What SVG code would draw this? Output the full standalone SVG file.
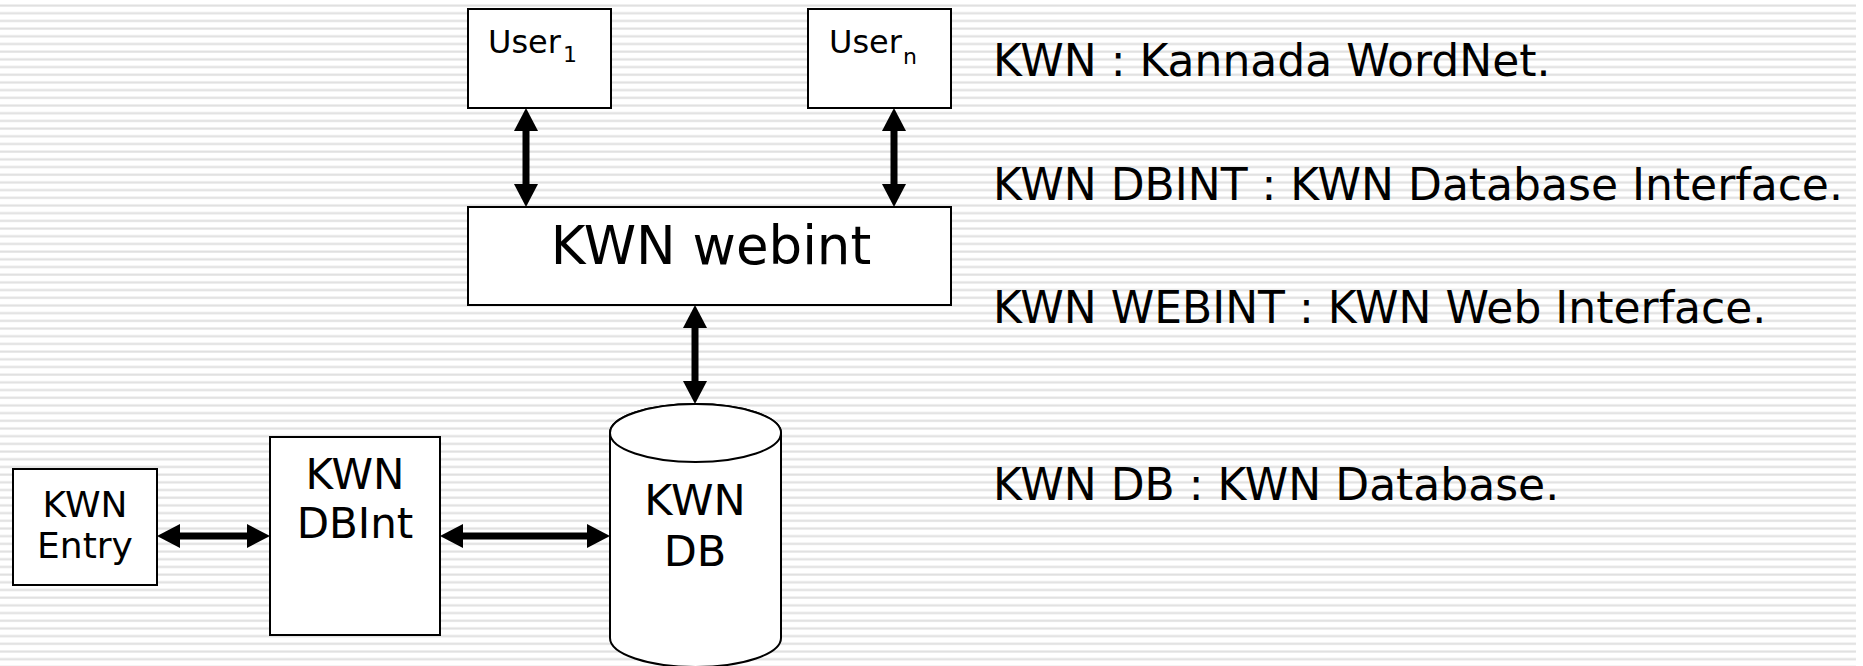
<svg xmlns="http://www.w3.org/2000/svg" width="1863" height="666" viewBox="0 0 1863 666">
  <defs>
    <pattern id="stripes" x="0" y="4" width="20" height="7.69" patternUnits="userSpaceOnUse">
      <rect x="0" y="0" width="20" height="1" fill="#efefef"/>
      <rect x="0" y="1" width="20" height="1.6" fill="#dfdfdf"/>
    </pattern>
    <marker id="head" viewBox="0 0 23 24" refX="10" refY="12" markerWidth="23" markerHeight="24" markerUnits="userSpaceOnUse" orient="auto-start-reverse">
      <path d="M0,0 L23,12 L0,24 Z" fill="#000"/>
    </marker>
  </defs>
  <style>
    .box { fill: #fff; stroke: #000; stroke-width: 2; }
    .lbl { font-family: "DejaVu Sans", Verdana, sans-serif; fill: #000; }
    .mid { text-anchor: middle; }
    .conn { stroke: #000; stroke-width: 7; fill: none; marker-start: url(#head); marker-end: url(#head); }
  </style>
  <rect x="0" y="0" width="1863" height="666" fill="#fff"/>
  <rect x="0" y="0" width="1856" height="666" fill="url(#stripes)"/>

  <g id="connectors">
    <line class="conn" x1="526" y1="121" x2="526" y2="194"/>
    <line class="conn" x1="894" y1="121" x2="894" y2="194"/>
    <line class="conn" x1="695" y1="318" x2="695" y2="391"/>
    <line class="conn" x1="170" y1="536" x2="257" y2="536"/>
    <line class="conn" x1="453" y1="536" x2="597" y2="536"/>
  </g>

  <g id="user1">
    <rect class="box" x="468" y="9" width="143" height="99"/>
    <text class="lbl" x="488" y="53" font-size="32">User<tspan font-size="22" dx="2" dy="9">1</tspan></text>
  </g>
  <g id="usern">
    <rect class="box" x="808" y="9" width="143" height="99"/>
    <text class="lbl" x="829" y="53" font-size="32">User<tspan font-size="22" dx="1" dy="11">n</tspan></text>
  </g>
  <g id="webint">
    <rect class="box" x="468" y="207" width="483" height="98"/>
    <text class="lbl mid" x="711" y="264" font-size="53">KWN webint</text>
  </g>
  <g id="entry">
    <rect class="box" x="13" y="469" width="144" height="116"/>
    <text class="lbl mid" x="85" y="517" font-size="36">KWN</text>
    <text class="lbl mid" x="85" y="558" font-size="36">Entry</text>
  </g>
  <g id="dbint">
    <rect class="box" x="270" y="437" width="170" height="198"/>
    <text class="lbl mid" x="355" y="489" font-size="42">KWN</text>
    <text class="lbl mid" x="355" y="538" font-size="42">DBInt</text>
  </g>
  <g id="db">
    <path class="box" d="M610,433 L610,638 A85.5,29 0 0 0 781,638 L781,433 A85.5,29 0 0 0 610,433 Z"/>
    <ellipse class="box" cx="695.5" cy="433" rx="85.5" ry="29"/>
    <text class="lbl mid" x="695" y="515" font-size="43">KWN</text>
    <text class="lbl mid" x="695" y="566" font-size="43">DB</text>
  </g>

  <g id="legend">
    <text class="lbl" x="993" y="76" font-size="44">KWN : Kannada WordNet.</text>
    <text class="lbl" x="993" y="200" font-size="44">KWN DBINT : KWN Database Interface.</text>
    <text class="lbl" x="993" y="323" font-size="44">KWN WEBINT : KWN Web Interface.</text>
    <text class="lbl" x="993" y="500" font-size="44">KWN DB : KWN Database.</text>
  </g>
</svg>
